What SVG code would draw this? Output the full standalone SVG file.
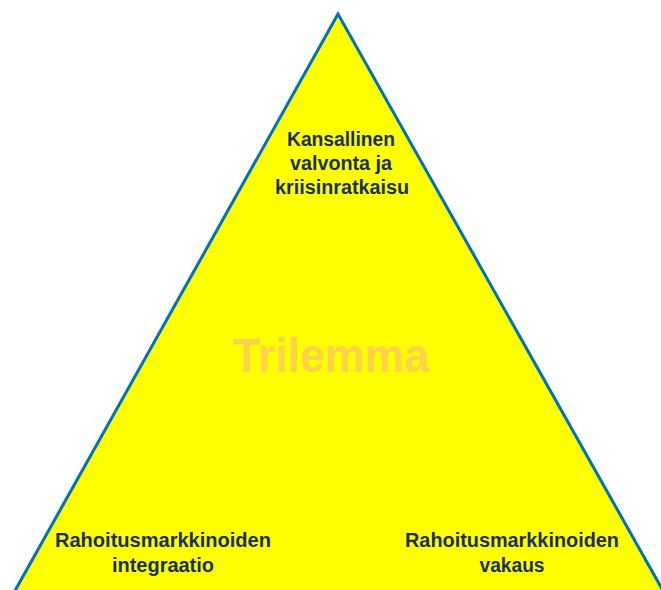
<svg xmlns="http://www.w3.org/2000/svg" width="661" height="590" viewBox="0 0 661 590">
<style>
.lbl{font-family:"Liberation Sans",Arial,sans-serif;font-weight:bold;font-size:20px;fill:#1A2F63;text-anchor:middle}
.big{font-family:"Liberation Sans",Arial,sans-serif;font-weight:bold;font-size:48px;fill:#FFD24C;text-anchor:middle}
</style>
<rect width="661" height="590" fill="#FFFFFF"/>
<g id="triangle">
<polygon points="338,14 12,596 666,596" fill="#FFFF00" stroke="#0070C0" stroke-width="3" stroke-linejoin="miter"/>
</g>
<g id="title">
<text class="big" x="331" y="372" textLength="196" lengthAdjust="spacingAndGlyphs">Trilemma</text>
</g>
<g id="top">
<text class="lbl" x="341" y="146" textLength="108" lengthAdjust="spacingAndGlyphs">Kansallinen</text>
<text class="lbl" x="341" y="170" textLength="102" lengthAdjust="spacingAndGlyphs">valvonta ja</text>
<text class="lbl" x="342" y="194" textLength="134" lengthAdjust="spacingAndGlyphs">kriisinratkaisu</text>
</g>
<g id="left">
<text class="lbl" x="163" y="547" textLength="216" lengthAdjust="spacingAndGlyphs">Rahoitusmarkkinoiden</text>
<text class="lbl" x="163" y="572" textLength="102" lengthAdjust="spacingAndGlyphs">integraatio</text>
</g>
<g id="right">
<text class="lbl" x="512" y="547" textLength="214" lengthAdjust="spacingAndGlyphs">Rahoitusmarkkinoiden</text>
<text class="lbl" x="512" y="572" textLength="65" lengthAdjust="spacingAndGlyphs">vakaus</text>
</g>
<g id="connectors"></g>
</svg>
